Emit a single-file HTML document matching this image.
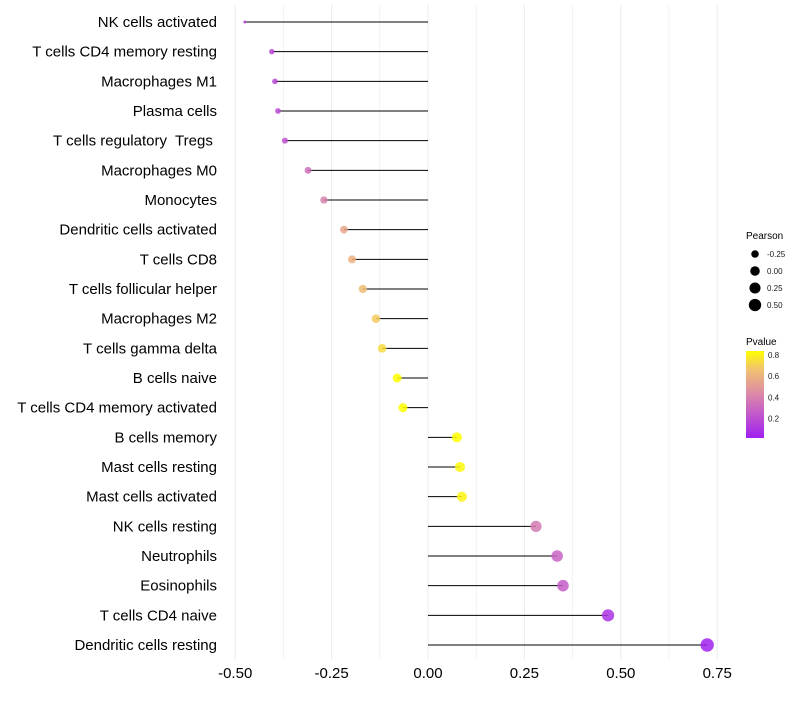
<!DOCTYPE html>
<html><head><meta charset="utf-8"><style>
body{margin:0;background:#fff;font-family:"Liberation Sans",Arial,sans-serif}
svg text{font-family:"Liberation Sans",Arial,sans-serif;white-space:pre}
</style></head><body>
<svg id="c" width="800" height="700">
<defs><linearGradient id="pg" x1="0" y1="1" x2="0" y2="0">
<stop offset="0" stop-color="#a020f0"/><stop offset="0.3" stop-color="#c55ec8"/><stop offset="0.55" stop-color="#e092a0"/><stop offset="0.8" stop-color="#f2c46c"/><stop offset="1" stop-color="#ffff00"/></linearGradient></defs>
<g id="grid"></g><g id="marks"></g><g id="axes"></g>
<g>
<text x="746" y="239" font-size="10">Pearson</text>
<g id="sizeleg"></g>
<text x="746" y="345" font-size="10">Pvalue</text>
<rect x="746" y="351" width="18" height="87" fill="url(#pg)"/>
<g id="colleg"></g>
</g>
</svg>
<script>
const categories=["NK cells activated","T cells CD4 memory resting","Macrophages M1","Plasma cells","T cells regulatory  Tregs ","Macrophages M0","Monocytes","Dendritic cells activated","T cells CD8","T cells follicular helper","Macrophages M2","T cells gamma delta","B cells naive","T cells CD4 memory activated","B cells memory","Mast cells resting","Mast cells activated","NK cells resting","Neutrophils","Eosinophils","T cells CD4 naive","Dendritic cells resting"];
const pearson=[-0.475,-0.405,-0.397,-0.389,-0.371,-0.311,-0.27,-0.218,-0.197,-0.169,-0.135,-0.119,-0.08,-0.065,0.075,0.083,0.088,0.28,0.335,0.35,0.467,0.724];
const pvalue=[0.12,0.17,0.17,0.18,0.2,0.32,0.4,0.55,0.6,0.65,0.7,0.75,0.85,0.85,0.85,0.83,0.82,0.37,0.28,0.25,0.08,0.01];
const xTicks=[-0.5,-0.25,0,0.25,0.5,0.75];
const xTickLabels=["-0.50","-0.25","0.00","0.25","0.50","0.75"];
const sizeLegend=[-0.25,0,0.25,0.5];
const sizeLegendLabels=["-0.25","0.00","0.25","0.50"];
const colorLegend=[0.2,0.4,0.6,0.8];
const NS="http://www.w3.org/2000/svg";
const x=v=>428+v*385.6;
const y=i=>22+i*29.667;
const r=v=>1.5+5.2*Math.sqrt(Math.max(0,(v+0.475)/1.2));
const stops=[[0,[160,32,240]],[0.3,[197,94,200]],[0.55,[224,146,160]],[0.8,[242,196,108]],[1,[255,255,0]]];
function col(p){let t=Math.max(0,Math.min(1,p/0.85));for(let k=1;k<stops.length;k++){if(t<=stops[k][0]){const a=stops[k-1],b=stops[k],f=(t-a[0])/(b[0]-a[0]);return "rgb("+a[1].map((c,j)=>Math.round(c+(b[1][j]-c)*f)).join(",")+")";}}return "rgb(255,255,0)";}
function mk(tag,at,parent){const e=document.createElementNS(NS,tag);for(const k in at)e.setAttribute(k,at[k]);parent.appendChild(e);return e;}
const G=document.getElementById("grid"),M=document.getElementById("marks"),A=document.getElementById("axes");
for(let v=-0.5;v<=0.76;v+=0.125){const l=mk("line",{x1:x(v),x2:x(v),y1:5,y2:660,stroke:"#ebebeb","stroke-width":v*8%2===0?1:0.6},G);

}
xTicks.forEach((v,i)=>{const t=mk("text",{x:x(v),y:678,"font-size":15,"text-anchor":"middle",fill:"#000"},A);t.textContent=xTickLabels[i];

});
categories.forEach((c,i)=>{
const t=mk("text",{x:217,y:y(i)+5,"font-size":15,"text-anchor":"end",fill:"#000"},A);t.textContent=c;


const l=mk("line",{x1:x(0),x2:x(pearson[i]),y1:y(i),y2:y(i),stroke:"#000","stroke-width":1},M);


const d=mk("circle",{cx:x(pearson[i]),cy:y(i),r:r(pearson[i]),fill:col(pvalue[i]),"fill-opacity":0.85},M);


});
const SL=document.getElementById("sizeleg");
sizeLegend.forEach((v,i)=>{const cy=254+i*17;
const d=mk("circle",{cx:755,cy:cy,r:r(v),fill:"#000"},SL);


const t=mk("text",{x:767,y:cy+3,"font-size":8,fill:"#1a1a1a"},SL);t.textContent=sizeLegendLabels[i];

});
const CL=document.getElementById("colleg");
colorLegend.forEach(v=>{const cy=440-v*106.5;
const t=mk("text",{x:768,y:cy+3,"font-size":8,fill:"#1a1a1a"},CL);t.textContent=v.toFixed(1);

});
</script>
</body></html>
